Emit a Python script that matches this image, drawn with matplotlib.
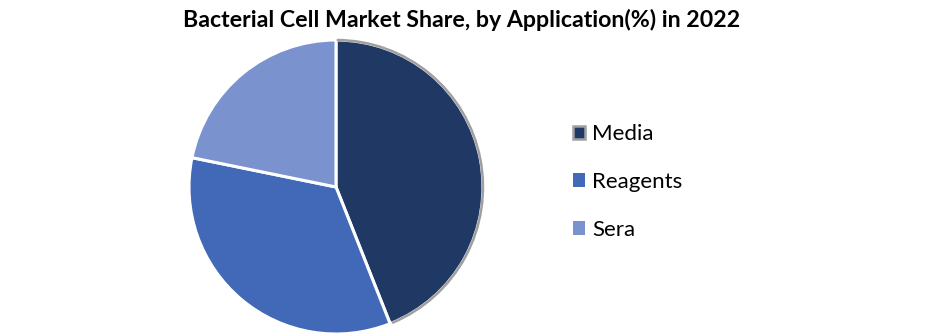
import matplotlib.pyplot as plt
from matplotlib.patches import Arc, Patch

labels = ["Media", "Reagents", "Sera"]
shares = [44.0, 34.2, 21.8]
colors = ["#203864", "#4169B8", "#7A92CE"]

title = "Bacterial Cell Market Share, by Application(%) in 2022"

fig = plt.figure(figsize=(9.41, 3.36), dpi=100)
W, H = 941, 336
cx, cy, r = 336, 187, 147
ax = fig.add_axes([(cx - r) / W, (H - cy - r) / H, 2 * r / W, 2 * r / H])

wedges, _ = ax.pie(
    shares,
    colors=colors,
    startangle=90,
    counterclock=False,
    wedgeprops=dict(edgecolor="white", linewidth=2.2, clip_on=False),
)
ax.set_aspect("equal")
ax.set_xlim(-1.0, 1.0)
ax.set_ylim(-1.0, 1.0)

# grey outline on the first (selected) slice
w0 = wedges[0]
ax.add_patch(Arc((0, 0), 2.0, 2.0, theta1=w0.theta1 + 0.8, theta2=w0.theta2 - 0.3,
                 color="#A0A0A0", linewidth=1.8, zorder=5, clip_on=False))

fig.text(462 / W, 1 - 20 / H, title, ha="center", va="center",
         fontsize=16.7, fontweight="bold", family="Lato")

handles = [Patch(facecolor=c, edgecolor="none") for c in colors]
handles[0] = Patch(facecolor=colors[0], edgecolor="#A0A0A0", linewidth=1.8)
leg = fig.legend(
    handles, labels,
    loc="center left",
    bbox_to_anchor=(553 / W, 1 - 182 / H),
    frameon=False,
    handlelength=0.55,
    handleheight=0.55,
    handletextpad=0.3,
    labelspacing=1.25,
    prop=dict(family="Lato", size=16),
)

fig.savefig("out.png", dpi=100)
